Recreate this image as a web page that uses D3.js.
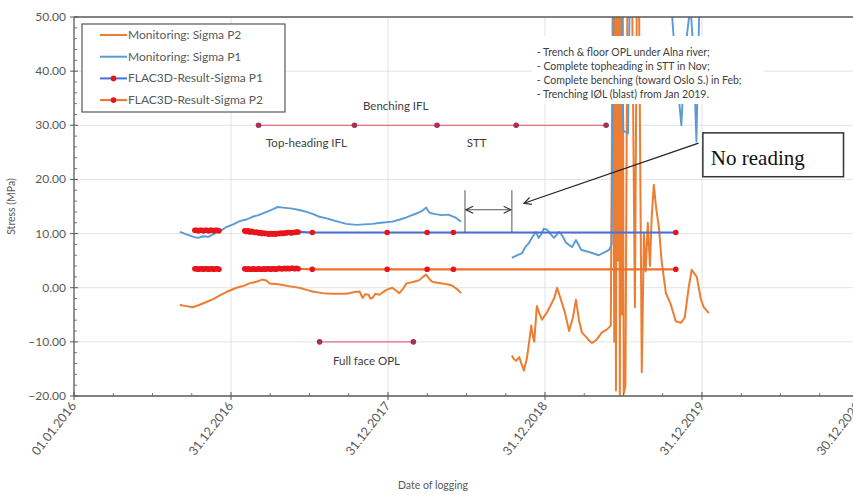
<!DOCTYPE html>
<html>
<head>
<meta charset="utf-8">
<script src="https://cdn.jsdelivr.net/npm/d3@7"></script>
<style>
  html, body { margin: 0; padding: 0; background: #fff; }
  svg { display: block; font-family: Lato, "Open Sans", "Liberation Sans", sans-serif; }
</style>
</head>
<body>
<svg id="chart" width="853" height="495"></svg>
<script>
// ---- data -------------------------------------------------------------
// Monitoring readings: [date, stress MPa]; null marks a break in logging.
const monitoringP2 = [
  ["2016-09-03",-3.2],["2016-09-18",-3.4],["2016-10-03",-3.6],["2016-10-18",-3.2],
  ["2016-11-05",-2.6],["2016-11-20",-2.1],["2016-12-05",-1.4],["2016-12-20",-0.8],
  ["2017-01-13",0.0],["2017-01-28",0.3],["2017-02-12",0.8],["2017-02-28",1.1],
  ["2017-03-14",1.5],["2017-03-24",1.3],["2017-03-31",0.8],["2017-04-15",0.7],
  ["2017-04-30",0.5],["2017-05-20",0.2],["2017-06-08",0.0],["2017-06-25",-0.4],
  ["2017-07-08",-0.7],["2017-08-01",-1.0],["2017-08-24",-1.1],["2017-09-25",-1.1],
  ["2017-10-15",-0.8],["2017-10-26",-0.7],["2017-11-02",-1.9],["2017-11-08",-1.2],
  ["2017-11-16",-1.3],["2017-11-20",-2.0],["2017-11-25",-1.9],["2017-12-02",-1.1],
  ["2017-12-11",-1.3],["2017-12-27",-0.4],["2018-01-10",0.0],["2018-01-20",-0.6],
  ["2018-01-26",-1.0],["2018-02-04",-0.2],["2018-02-12",0.8],["2018-02-25",1.0],
  ["2018-03-14",1.4],["2018-03-22",2.0],["2018-03-30",2.4],["2018-04-06",1.6],
  ["2018-04-13",1.1],["2018-04-25",0.9],["2018-05-06",0.8],["2018-05-20",0.6],
  ["2018-05-29",0.4],["2018-06-10",-0.3],["2018-06-19",-1.0],
  ["2018-08-15",null],
  ["2018-10-15",-12.5],["2018-10-20",-13.2],["2018-10-25",-13.5],["2018-11-01",-12.8],
  ["2018-11-07",-14.2],["2018-11-12",-15.3],["2018-11-19",-13.0],["2018-11-25",-9.5],
  ["2018-11-29",-7.0],["2018-12-03",-9.0],["2018-12-06",-10.0],["2018-12-12",-3.4],
  ["2018-12-18",-4.8],["2018-12-24",-5.9],["2019-01-05",-4.5],["2019-01-14",-3.1],
  ["2019-01-22",-1.8],["2019-01-28",0.0],["2019-02-06",-2.2],["2019-02-15",-4.5],
  ["2019-02-25",-8.0],["2019-03-06",-5.5],["2019-03-13",-2.2],["2019-03-20",-6.0],
  ["2019-03-27",-8.3],["2019-04-02",-8.8],["2019-04-07",-9.2],["2019-04-13",-9.8],
  ["2019-04-19",-10.2],["2019-04-25",-9.9],["2019-05-01",-9.5],["2019-05-12",-8.3],
  ["2019-05-24",-7.7],["2019-06-02",-7.0],
  ["2019-06-07",60],["2019-06-10",-10],["2019-06-12",60],["2019-06-14",-19],
  ["2019-06-16",60],["2019-06-18",5],["2019-06-21",55],["2019-06-23",-19.8],
  ["2019-06-25",60],["2019-06-28",-5],["2019-06-30",50],["2019-07-02",-19.6],
  ["2019-07-06",-18],["2019-07-11",60],["2019-07-21",60],["2019-07-28",-3.6],
  ["2019-08-02",60],["2019-08-06",60],["2019-08-13",-15.6],["2019-08-18",10],
  ["2019-08-22",3],["2019-08-27",12],["2019-09-01",4],["2019-09-05",13],
  ["2019-09-10",19],["2019-09-15",15],["2019-09-22",11],["2019-09-28",5],
  ["2019-10-08",-1],["2019-10-19",-3],["2019-10-31",-6.2],["2019-11-12",-6.5],
  ["2019-11-21",-5.5],["2019-11-30",0],["2019-12-07",3.3],["2019-12-14",2.5],
  ["2019-12-19",2.0],["2019-12-28",-2.0],["2020-01-04",-3.6],["2020-01-16",-4.7]
];

const monitoringP1 = [
  ["2016-09-03",10.3],["2016-09-20",9.8],["2016-10-05",9.4],["2016-10-15",9.2],
  ["2016-10-28",9.5],["2016-11-08",9.4],["2016-11-20",9.9],["2016-12-05",10.4],
  ["2016-12-20",11.2],["2017-01-05",11.7],["2017-01-20",12.3],["2017-02-05",12.6],
  ["2017-02-19",13.1],["2017-03-05",13.4],["2017-03-24",14.0],["2017-04-08",14.5],
  ["2017-04-18",14.9],["2017-05-01",14.8],["2017-05-23",14.6],["2017-06-10",14.3],
  ["2017-06-25",14.0],["2017-07-10",13.6],["2017-07-25",13.1],["2017-08-10",12.8],
  ["2017-08-24",12.5],["2017-09-10",12.1],["2017-09-25",11.8],["2017-10-19",11.6],
  ["2017-11-05",11.7],["2017-11-25",11.8],["2017-12-15",12.0],["2018-01-10",12.2],
  ["2018-01-28",12.6],["2018-02-12",13.0],["2018-02-25",13.4],["2018-03-10",13.8],
  ["2018-03-22",14.3],["2018-03-30",14.8],["2018-04-03",14.2],["2018-04-08",13.8],
  ["2018-04-20",13.6],["2018-05-05",13.4],["2018-05-20",13.5],["2018-06-05",13.0],
  ["2018-06-19",12.2],
  ["2018-08-15",null],
  ["2018-10-15",5.5],["2018-10-28",6.0],["2018-11-08",6.4],["2018-11-16",7.6],
  ["2018-11-24",8.3],["2018-12-02",9.4],["2018-12-10",10.3],["2018-12-16",9.2],
  ["2018-12-22",9.8],["2018-12-28",10.9],["2019-01-05",10.7],["2019-01-12",10.0],
  ["2019-01-21",9.2],["2019-02-02",10.3],["2019-02-10",9.5],["2019-02-18",8.3],
  ["2019-03-04",7.5],["2019-03-13",8.8],["2019-03-25",7.0],["2019-04-12",6.6],
  ["2019-05-05",6.0],["2019-05-29",7.0],["2019-06-04",8.0],
  ["2019-06-09",60],["2019-06-26",60],["2019-07-01",29],["2019-07-12",28.5],
  ["2019-07-17",60],["2019-10-14",60],["2019-10-28",44],["2019-11-13",30],
  ["2019-11-22",44],["2019-12-04",52],["2019-12-11",44],["2019-12-18",27],
  ["2019-12-27",60]
];

// FLAC3D model results, same output dates for both principal stresses
const flacDates = [
  "2016-10-08","2016-10-12","2016-10-16","2016-10-20","2016-10-24","2016-10-28",
  "2016-11-01","2016-11-05","2016-11-09","2016-11-13","2016-11-17","2016-11-21",
  "2016-11-25","2016-11-29","2016-12-03",
  "2017-01-10",
  "2017-02-01","2017-02-05","2017-02-09","2017-02-13","2017-02-17","2017-02-21",
  "2017-02-25","2017-03-01","2017-03-05","2017-03-09","2017-03-13","2017-03-17",
  "2017-03-21","2017-03-25","2017-03-29","2017-04-02","2017-04-06","2017-04-10",
  "2017-04-14","2017-04-18","2017-04-22","2017-04-26","2017-04-30","2017-05-04",
  "2017-05-08","2017-05-12","2017-05-16","2017-05-20","2017-05-24","2017-05-28",
  "2017-06-01","2017-06-05",
  "2017-07-08","2017-12-29","2018-04-01","2018-06-01","2019-10-31"
];
const flacP1 = [
  10.6,10.6,10.5,10.6,10.6,10.5,10.6,10.6,10.5,10.6,10.6,10.5,10.6,10.6,10.5,
  null,
  10.5,10.4,10.5,10.3,10.4,10.3,10.2,10.3,10.1,10.2,10.0,10.1,10.0,10.0,9.9,10.0,
  9.9,10.0,9.9,10.0,10.0,10.1,10.0,10.1,10.1,10.2,10.2,10.1,10.2,10.2,10.3,10.3,
  10.2,10.2,10.2,10.2,10.2
];
const flacP2 = [
  3.5,3.5,3.4,3.5,3.5,3.4,3.5,3.5,3.4,3.5,3.5,3.4,3.5,3.5,3.4,
  null,
  3.5,3.4,3.5,3.4,3.4,3.5,3.4,3.4,3.5,3.4,3.4,3.5,3.4,3.5,3.5,3.4,
  3.5,3.5,3.4,3.5,3.6,3.5,3.5,3.6,3.5,3.6,3.5,3.6,3.6,3.5,3.6,3.5,
  3.4,3.4,3.4,3.4,3.4
];

// Excavation stages drawn as timelines
const benchingDates  = ["2017-03-05","2017-10-14","2018-04-24","2018-10-25","2019-05-22"];
const benchingLevel  = [30, 30, 30, 30, 30];
const fullFaceDates  = ["2017-07-25","2018-02-28"];
const fullFaceLevel  = [-10, -10];
const stageLabels = [
  { text: "Top-heading IFL", from: 0, to: 1, side: "below" },
  { text: "Benching IFL",    from: 1, to: 2, side: "above" },
  { text: "STT",             from: 2, to: 3, side: "below" }
];
const fullFaceLabel = "Full face OPL";

const yTicks = [50, 40, 30, 20, 10, 0, -10, -20];
const xTickDates  = ["2016-01-01","2016-12-31","2017-12-31","2018-12-31","2019-12-31","2020-12-30"];
const xTickLabels = ["01.01.2016","31.12.2016","31.12.2017","31.12.2018","31.12.2019","30.12.2020"];

const legendLabels = ["Monitoring: Sigma P2","Monitoring: Sigma P1","FLAC3D-Result-Sigma P1","FLAC3D-Result-Sigma P2"];

const notes = [
  "- Trench & floor OPL under Alna river;",
  "- Complete topheading in STT in Nov;",
  "- Complete benching (toward Oslo S.) in Feb;",
  "- Trenching IØL (blast) from Jan 2019."
];
const calloutText = "No reading";
const gapStart = "2018-06-28", gapEnd = "2018-10-15";

// ---- layout & scales --------------------------------------------------
const C = {
  orange: "#ed7d31", blue: "#5b9bd5", flacBlue: "#4a6fd8", flacOrange: "#f0702a",
  marker: "#e8141c", stageLine: "#e4707c", stageMarker: "#a53050",
  axis: "#595959", grid: "#dcdcdc", text: "#595959", note: "#404040"
};
const plot = { left: 74, top: 17, right: 859, bottom: 396 };
const parse = d3.utcParse("%Y-%m-%d");

const x = d3.scaleUtc()
  .domain([parse(xTickDates[0]), parse(xTickDates[xTickDates.length - 1])])
  .range([plot.left, plot.right]);
const y = d3.scaleLinear().domain([-20, 50]).range([plot.bottom, plot.top]);

const svg = d3.select("#chart");
const defs = svg.append("defs");
defs.append("clipPath").attr("id", "plotClip")
  .append("rect").attr("x", plot.left).attr("y", plot.top)
  .attr("width", plot.right - plot.left).attr("height", plot.bottom - plot.top);
defs.append("marker").attr("id", "openArrow")
  .attr("viewBox", "0 0 10 10").attr("refX", 9).attr("refY", 5)
  .attr("markerWidth", 9).attr("markerHeight", 9).attr("orient", "auto-start-reverse")
  .attr("markerUnits", "userSpaceOnUse")
  .append("path").attr("d", "M1,1 L9,5 L1,9").attr("fill", "none")
  .attr("stroke", "#333").attr("stroke-width", 1.3);

// ---- gridlines --------------------------------------------------------
const grid = svg.append("g");
grid.selectAll("line.h").data(yTicks.filter(v => v > -20 && v < 50)).join("line")
  .attr("x1", plot.left).attr("x2", plot.right)
  .attr("y1", d => y(d)).attr("y2", d => y(d))
  .attr("stroke", C.grid).attr("stroke-width", 0.8);
grid.selectAll("line.v").data(xTickDates.slice(1)).join("line")
  .attr("x1", d => x(parse(d))).attr("x2", d => x(parse(d)))
  .attr("y1", plot.top).attr("y2", plot.bottom)
  .attr("stroke", C.grid).attr("stroke-width", 0.8);

// ---- series -----------------------------------------------------------
const series = svg.append("g").attr("clip-path", "url(#plotClip)");
const lineGen = d3.line()
  .defined(d => d[1] !== null)
  .x(d => x(parse(d[0]))).y(d => y(d[1]));

series.append("path").datum(monitoringP2).attr("d", lineGen)
  .attr("fill", "none").attr("stroke", C.orange).attr("stroke-width", 2)
  .attr("stroke-linejoin", "round");
series.append("path").datum(monitoringP1).attr("d", lineGen)
  .attr("fill", "none").attr("stroke", C.blue).attr("stroke-width", 1.9)
  .attr("stroke-linejoin", "round");

function drawFlac(values, colour) {
  const pts = flacDates.map((d, i) => [d, values[i]]);
  series.append("path").datum(pts).attr("d", lineGen)
    .attr("fill", "none").attr("stroke", colour).attr("stroke-width", 2.2);
  series.append("g").selectAll("circle").data(pts.filter(p => p[1] !== null)).join("circle")
    .attr("cx", p => x(parse(p[0]))).attr("cy", p => y(p[1])).attr("r", 2.8)
    .attr("fill", C.marker);
}
drawFlac(flacP1, C.flacBlue);
drawFlac(flacP2, C.flacOrange);

function drawStage(dates, levels) {
  const pts = dates.map((d, i) => [d, levels[i]]);
  series.append("path").datum(pts).attr("d", lineGen)
    .attr("fill", "none").attr("stroke", C.stageLine).attr("stroke-width", 1.2);
  series.append("g").selectAll("circle").data(pts).join("circle")
    .attr("cx", p => x(parse(p[0]))).attr("cy", p => y(p[1])).attr("r", 2.8)
    .attr("fill", C.stageMarker);
}
drawStage(benchingDates, benchingLevel);
drawStage(fullFaceDates, fullFaceLevel);

// stage labels
const labels = svg.append("g").attr("font-size", 11.5).attr("fill", C.note).attr("text-anchor", "middle");
stageLabels.forEach(s => {
  const cx = (x(parse(benchingDates[s.from])) + x(parse(benchingDates[s.to]))) / 2;
  const ly = y(benchingLevel[s.from]) + (s.side === "above" ? -15 : 22);
  labels.append("text").attr("x", cx).attr("y", ly).text(s.text);
});
labels.append("text")
  .attr("x", (x(parse(fullFaceDates[0])) + x(parse(fullFaceDates[1]))) / 2)
  .attr("y", y(fullFaceLevel[0]) + 23).text(fullFaceLabel);

// ---- axes -------------------------------------------------------------
const axes = svg.append("g").attr("stroke", C.axis);
// plot frame (top, left and bottom edges inside the page)
axes.append("line").attr("x1", plot.left).attr("x2", plot.right)
  .attr("y1", plot.top).attr("y2", plot.top).attr("stroke-width", 1.3);
axes.append("line").attr("x1", plot.left).attr("x2", plot.left)
  .attr("y1", plot.top).attr("y2", plot.bottom).attr("stroke-width", 1.3);
axes.append("line").attr("x1", plot.left).attr("x2", plot.right)
  .attr("y1", plot.bottom).attr("y2", plot.bottom).attr("stroke-width", 1.3);

// y ticks: major crossing, minor every 2 MPa
yTicks.forEach(v => {
  axes.append("line").attr("x1", plot.left - 4).attr("x2", plot.left + 4)
    .attr("y1", y(v)).attr("y2", y(v)).attr("stroke-width", 1);
});
d3.range(-18, 50, 2).filter(v => v % 10 !== 0).forEach(v => {
  axes.append("line").attr("x1", plot.left).attr("x2", plot.left + 3)
    .attr("y1", y(v)).attr("y2", y(v)).attr("stroke-width", 0.8);
});
svg.append("g").attr("font-size", 12).attr("fill", C.text).attr("text-anchor", "end")
  .selectAll("text").data(yTicks).join("text")
  .attr("x", plot.left - 8).attr("y", d => y(d) + 4)
  .text(d => d3.format(".2f")(d));

// x ticks: yearly major, quarterly minor
const xMajor = xTickDates.map(parse);
xMajor.forEach(d => {
  axes.append("line").attr("x1", x(d)).attr("x2", x(d))
    .attr("y1", plot.bottom - 4).attr("y2", plot.bottom + 4).attr("stroke-width", 1);
});
for (let i = 0; i < xMajor.length - 1; i++) {
  const step = (xMajor[i + 1] - xMajor[i]) / 4;
  for (let k = 1; k < 4; k++) {
    const px = x(new Date(+xMajor[i] + step * k));
    axes.append("line").attr("x1", px).attr("x2", px)
      .attr("y1", plot.bottom - 3).attr("y2", plot.bottom).attr("stroke-width", 0.8);
  }
}
svg.append("g").attr("font-size", 12.5).attr("fill", C.text).attr("text-anchor", "end")
  .selectAll("text").data(xTickLabels).join("text")
  .attr("transform", (d, i) => `translate(${x(xMajor[i]) + 3},${plot.bottom + 10}) rotate(-52)`)
  .text(d => d);

// axis titles
svg.append("text").attr("x", 433).attr("y", 489).attr("text-anchor", "middle")
  .attr("font-size", 10.5).attr("fill", C.text).text("Date of logging");
svg.append("text").attr("transform", `translate(15,${(plot.top + plot.bottom) / 2}) rotate(-90)`)
  .attr("text-anchor", "middle").attr("font-size", 10.5).attr("fill", C.text).text("Stress (MPa)");

// ---- notes box (opaque, sits over the series) --------------------------
const notesX = x(parse("2018-12-12"));
const notesG = svg.append("g");
notesG.append("rect").attr("x", notesX - 5).attr("y", 36).attr("width", 232).attr("height", 68)
  .attr("fill", "#fff");
notesG.selectAll("text").data(notes).join("text")
  .attr("x", notesX).attr("y", (d, i) => 56 + i * 14)
  .attr("font-size", 10.5).attr("fill", C.note).text(d => d);

// ---- "no reading" annotation -------------------------------------------
const gx0 = x(parse(gapStart)), gx1 = x(parse(gapEnd));
const dim = svg.append("g").attr("stroke", "#555").attr("stroke-width", 1);
dim.append("line").attr("x1", gx0).attr("x2", gx0).attr("y1", y(18)).attr("y2", y(10.2));
dim.append("line").attr("x1", gx1).attr("x2", gx1).attr("y1", y(18)).attr("y2", y(10.2));
dim.append("line").attr("x1", gx0 + 1).attr("x2", gx1 - 1).attr("y1", y(14.4)).attr("y2", y(14.4))
  .attr("marker-start", "url(#openArrow)").attr("marker-end", "url(#openArrow)");

svg.append("line")
  .attr("x1", x(parse("2019-12-23"))).attr("y1", y(26.7))
  .attr("x2", x(parse("2018-11-12"))).attr("y2", y(15.6))
  .attr("stroke", "#222").attr("stroke-width", 1.3)
  .attr("marker-end", "url(#openArrow)");

const boxL = x(parse("2020-01-02")), boxR = x(parse("2020-11-24"));
svg.append("rect").attr("x", boxL).attr("y", y(28.6))
  .attr("width", boxR - boxL).attr("height", y(20.5) - y(28.6))
  .attr("fill", "#fff").attr("stroke", "#333").attr("stroke-width", 1.5);
svg.append("text").attr("x", boxL + 8).attr("y", y(22.7))
  .attr("font-family", "'Liberation Serif', 'DejaVu Serif', serif")
  .attr("font-size", 21).attr("fill", "#111").text(calloutText);

// ---- legend -----------------------------------------------------------
const lg = svg.append("g");
lg.append("rect").attr("x", 82).attr("y", 24).attr("width", 203).attr("height", 88)
  .attr("fill", "#fff").attr("stroke", "#595959").attr("stroke-width", 1.2);
const legendStyle = [
  { stroke: C.orange, marker: false },
  { stroke: C.blue, marker: false },
  { stroke: C.flacBlue, marker: true },
  { stroke: C.flacOrange, marker: true }
];
legendLabels.forEach((label, i) => {
  const ly = 35 + i * 21.7;
  lg.append("line").attr("x1", 100).attr("x2", 127).attr("y1", ly).attr("y2", ly)
    .attr("stroke", legendStyle[i].stroke).attr("stroke-width", 2);
  if (legendStyle[i].marker)
    lg.append("circle").attr("cx", 113.5).attr("cy", ly).attr("r", 2.8).attr("fill", C.marker);
  lg.append("text").attr("x", 128).attr("y", ly + 4).attr("font-size", 12)
    .attr("fill", C.text).text(label);
});
</script>
</body>
</html>
